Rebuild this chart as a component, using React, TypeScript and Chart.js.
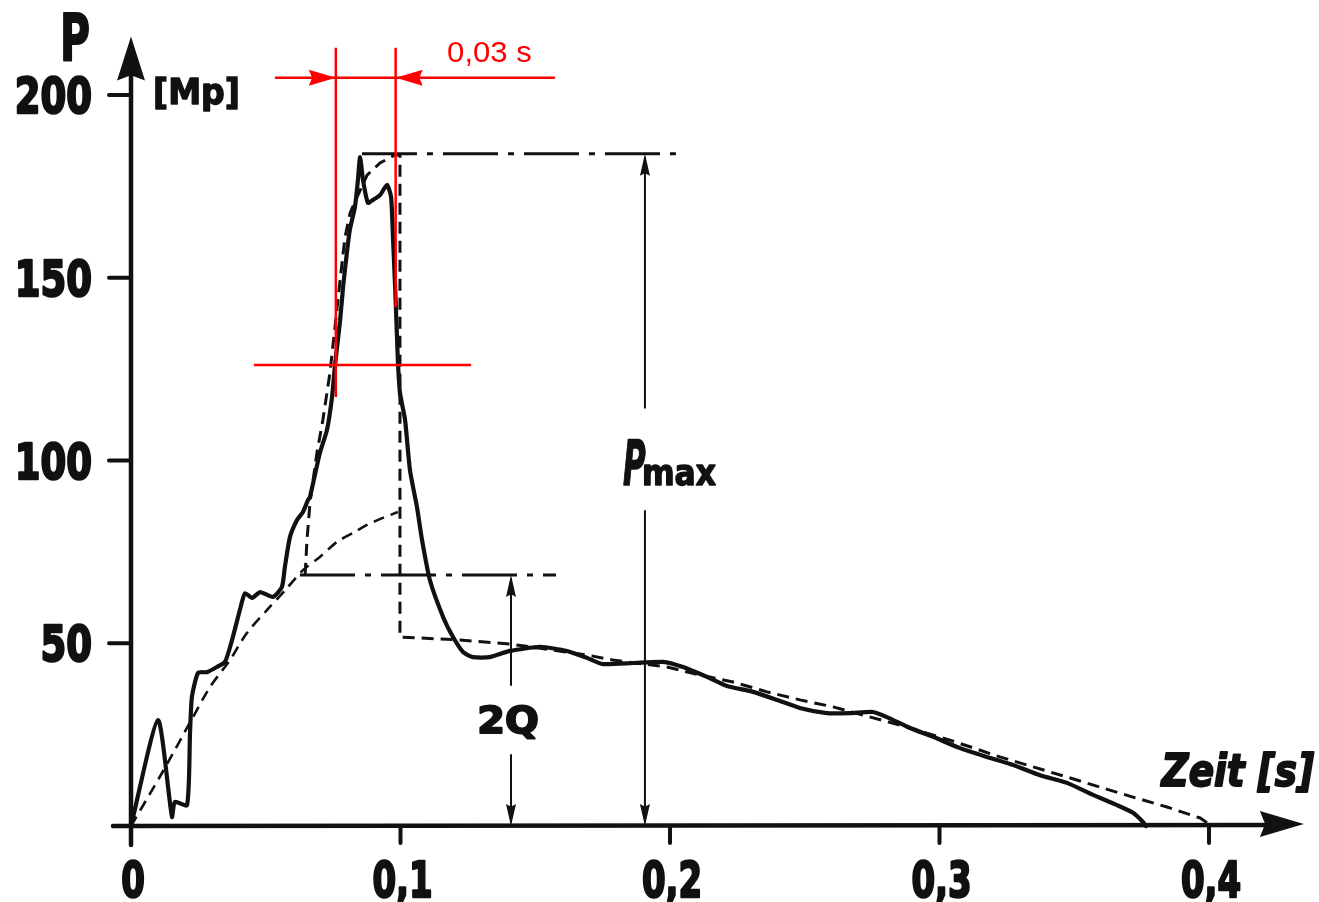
import React, { useEffect, useRef } from "react";
import { Chart, registerables } from "chart.js";

Chart.register(...registerables);

// ---------- data (time in s, load P in Mp) ----------
const measuredTime = [
  0, 0.0100, 0.0152, 0.0163, 0.0208, 0.0219, 0.0226, 0.0249, 0.0282, 0.0319,
  0.0349, 0.0375, 0.0404, 0.0423, 0.0449, 0.0479, 0.0527, 0.0560, 0.0571, 0.0590,
  0.0616, 0.0638, 0.0657, 0.0664, 0.0701, 0.0727, 0.0746, 0.0757, 0.0776, 0.0787,
  0.0801, 0.0812, 0.0831, 0.0842, 0.0850, 0.0861, 0.0879, 0.0898, 0.0924, 0.0950,
  0.0965, 0.0972, 0.0980, 0.0987, 0.0991, 0.0998, 0.1017, 0.1035, 0.1061, 0.1080,
  0.1109, 0.1158, 0.1195, 0.1232, 0.1269, 0.1332, 0.1406, 0.1518, 0.1618, 0.1692,
  0.1751, 0.1863, 0.1974, 0.2048, 0.2137, 0.2211, 0.2308, 0.2397, 0.2482, 0.2582,
  0.2668, 0.2753, 0.2805, 0.2891, 0.2976, 0.3076, 0.3176, 0.3273, 0.3373, 0.3473,
  0.3570, 0.3659, 0.3718, 0.3755, 0.3766,
];
const measuredLoad = [
  0, 29.0, 2.5, 6.6, 5.7, 25.4, 35.3, 41.9, 42.1, 43.5,
  44.9, 50.9, 59.1, 63.7, 62.4, 64.0, 62.7, 65.4, 70.9, 79.1,
  83.7, 85.9, 89.2, 90.0, 102.1, 108.3, 117.4, 126.1, 138.4, 147.5,
  156.8, 163.1, 169.4, 176.7, 183.0, 176.7, 170.5, 171.3, 172.6, 175.4,
  172.1, 161.1, 147.5, 133.8, 126.1, 118.5, 111.1, 97.4, 87.3, 78.2,
  67.3, 57.2, 51.7, 47.6, 46.2, 46.2, 47.9, 49.0, 47.9, 46.0,
  44.3, 44.6, 44.9, 43.5, 40.8, 38.3, 36.7, 34.5, 32.3, 30.9,
  30.9, 31.2, 29.8, 26.8, 24.4, 21.3, 18.9, 16.7, 13.9, 11.8,
  8.5, 5.7, 3.6, 1.1, 0,
];

// idealised lower curve (dashed)
const lowerTime = [0, 0.0115, 0.0230, 0.0293, 0.0367, 0.0430, 0.0505, 0.0579, 0.0638, 0.0701, 0.0764, 0.0824, 0.0876, 0.0935, 0.0990];
const lowerLoad = [0, 14.5, 29.8, 38.0, 45.4, 52.8, 59.1, 65.1, 70.0, 73.6, 77.7, 80.2, 82.4, 84.3, 85.9];

// idealised impact curve (dashed): rise, drop at 0.1 s, decay to 0.4 s
const idealTime = [
  0.0646, 0.0653, 0.0664, 0.0690, 0.0712, 0.0738, 0.0757, 0.0776, 0.0794, 0.0813,
  0.0839, 0.0876, 0.0924, 0.0980, 0.0998, 0.0998, 0.1221, 0.1406, 0.1692, 0.1788,
  0.1989, 0.2111, 0.2234, 0.2360, 0.2482, 0.2605, 0.2853, 0.3039, 0.3224, 0.3473,
  0.3718, 0.3844, 0.3967, 0.4011,
];
const idealLoad = [
  68.7, 78.2, 88.4, 102.1, 111.1, 123.9, 136.5, 149.4, 161.1, 167.7,
  172.1, 178.1, 181.4, 183.6, 183.6, 51.7, 50.9, 49.8, 46.8, 45.4,
  43.5, 41.3, 39.4, 36.7, 34.5, 32.6, 27.6, 23.5, 18.9, 13.4,
  7.9, 5.2, 2.2, 0,
];

// reference levels
const pmaxLevel = 183.9;
const pmaxLineTime = [0.0857, 0.2022];
const twoQLevel = 68.7;
const twoQLineTime = [0.0627, 0.1577];

// dimension arrows: [time, top, gapTop, gapBottom, bottom]
const pmaxArrow = [0.1907, 183.9, 114.4, 86.2, 0];
const twoQArrow = [0.1410, 68.7, 38.6, 19.4, 0];

// red 0,03 s construction
const redVert1 = [0.0760, 212.9, 117.4];
const redVert2 = [0.0982, 212.9, 142.0];
const redHoriz = [126.1, 0.0456, 0.1262];
const redArrowLevel = 204.7;
const redArrowLeftFrom = 0.0534;
const redArrowRightFrom = 0.1573;

// axes
const xTicks = [0, 0.1, 0.2, 0.3, 0.4];
const xTickLabels = ["0", "0,1", "0,2", "0,3", "0,4"];
const yTicks = [50, 100, 150, 200];
const yTickLabels = ["50", "100", "150", "200"];

const zip = (t: number[], p: number[]) => t.map((x, i) => ({ x, y: p[i] }));

const BOLD = "'DejaVu Sans', sans-serif";

function text(ctx: CanvasRenderingContext2D, s: string, x: number, y: number, font: string, align: CanvasTextAlign, sx = 1, color = "#111", stroke = 0) {
  ctx.save();
  ctx.font = font;
  ctx.fillStyle = color;
  ctx.strokeStyle = color;
  ctx.lineJoin = "round";
  ctx.textAlign = align;
  ctx.textBaseline = "alphabetic";
  ctx.translate(x, y);
  ctx.scale(sx, 1);
  ctx.fillText(s, 0, 0);
  if (stroke > 0) {
    ctx.lineWidth = stroke;
    ctx.strokeText(s, 0, 0);
  }
  ctx.restore();
}

function head(ctx: CanvasRenderingContext2D, tx: number, ty: number, dx: number, dy: number, len: number, half: number, color: string) {
  const bx = tx - dx * len, by = ty - dy * len;
  const nx = -dy, ny = dx;
  ctx.save();
  ctx.fillStyle = color;
  ctx.beginPath();
  ctx.moveTo(tx, ty);
  ctx.lineTo(bx + nx * half, by + ny * half);
  ctx.lineTo(bx + dx * len * 0.12, by + dy * len * 0.12);
  ctx.lineTo(bx - nx * half, by - ny * half);
  ctx.closePath();
  ctx.fill();
  ctx.restore();
}

const overlay = {
  id: "overlay",
  afterDatasetsDraw(chart: any) {
    const ctx: CanvasRenderingContext2D = chart.ctx;
    const xs = chart.scales.x, ys = chart.scales.y;
    const px = (v: number) => xs.getPixelForValue(v);
    const py = (v: number) => ys.getPixelForValue(v);
    const ink = "#111";
    const x0 = px(0), y0 = py(0);

    ctx.save();
    ctx.strokeStyle = ink;
    ctx.lineCap = "round";

    // axes
    ctx.lineWidth = 4.5;
    ctx.beginPath();
    ctx.moveTo(x0, y0 + 19);
    ctx.lineTo(x0, py(212));
    ctx.moveTo(x0 - 18, y0);
    ctx.lineTo(px(0.428), y0 - 1);
    ctx.stroke();
    head(ctx, x0, py(216), 0, -1, 44, 14, ink);
    head(ctx, px(0.4352), y0 - 2, 1, 0, 44, 13, ink);

    // ticks
    ctx.lineWidth = 4;
    ctx.beginPath();
    yTicks.forEach((v) => { ctx.moveTo(x0 - 22, py(v)); ctx.lineTo(x0, py(v)); });
    xTicks.forEach((v) => { if (v > 0) { ctx.moveTo(px(v), y0); ctx.lineTo(px(v), y0 + 17); } });
    ctx.stroke();

    yTickLabels.forEach((s, i) => text(ctx, s, x0 - 39, py(yTicks[i]) + 18, `bold 50px ${BOLD}`, "right", 0.74, ink, 2.5));
    xTickLabels.forEach((s, i) => text(ctx, s, px(xTicks[i]) + 2, y0 + 71, `bold 50px ${BOLD}`, "center", 0.68, ink, 2.5));

    // axis titles
    text(ctx, "P", x0 - 71, py(0) - 765, `bold 66px ${BOLD}`, "left", 0.62, ink, 2);
    text(ctx, "[Mp]", x0 + 22, py(200) + 9, `bold 36px ${BOLD}`, "left", 0.92, ink, 1.5);
    text(ctx, "Zeit [s]", px(0.3824), y0 - 40, `italic bold 45px ${BOLD}`, "left", 0.83, ink, 2);

    // dimension arrows
    ctx.lineWidth = 2;
    [pmaxArrow, twoQArrow].forEach((a) => {
      const [t, top, g1, g2, bot] = a;
      ctx.beginPath();
      ctx.moveTo(px(t), py(top) + 4);
      ctx.lineTo(px(t), py(g1));
      ctx.moveTo(px(t), py(g2));
      ctx.lineTo(px(t), py(bot) - 4);
      ctx.stroke();
      head(ctx, px(t), py(top), 0, -1, 22, 5, ink);
      head(ctx, px(t), py(bot), 0, 1, 22, 5, ink);
    });

    // dimension labels
    text(ctx, "P", px(pmaxArrow[0]) - 22, py(93.3), `italic bold 62px ${BOLD}`, "left", 0.5, ink, 1.5);
    text(ctx, "max", px(pmaxArrow[0]) - 3, py(93.3), `bold 36px ${BOLD}`, "left", 0.87, ink, 1.5);
    text(ctx, "2Q", px(twoQArrow[0]) - 3, py(25.4), `bold 38px ${BOLD}`, "center", 1.05, ink, 2);

    // red arrowheads + label
    const red = "#ff0000";
    head(ctx, px(redVert1[0]), py(redArrowLevel), 1, 0, 27, 8, red);
    head(ctx, px(redVert2[0]), py(redArrowLevel), -1, 0, 27, 8, red);
    text(ctx, "0,03 s", px(0.1173), py(209.0), `29px 'Liberation Sans', Arial, sans-serif`, "left", 1.07, red);

    ctx.restore();
  },
};

export default function App() {
  const ref = useRef<HTMLCanvasElement | null>(null);

  useEffect(() => {
    if (!ref.current) return;
    const red = "#ff0000";
    const ink = "#111";
    const base = { pointRadius: 0, clip: false as any, fill: false };
    const chart = new Chart(ref.current, {
      type: "line",
      data: {
        datasets: [
          { ...base, label: "red v1", data: [{ x: redVert1[0], y: redVert1[1] }, { x: redVert1[0], y: redVert1[2] }], borderColor: red, borderWidth: 2.5, tension: 0 },
          { ...base, label: "red v2", data: [{ x: redVert2[0], y: redVert2[1] }, { x: redVert2[0], y: redVert2[2] }], borderColor: red, borderWidth: 2.5, tension: 0 },
          { ...base, label: "red h", data: [{ x: redHoriz[1], y: redHoriz[0] }, { x: redHoriz[2], y: redHoriz[0] }], borderColor: red, borderWidth: 2.5, tension: 0 },
          { ...base, label: "red arrow", data: [{ x: redArrowLeftFrom, y: redArrowLevel }, { x: redVert1[0], y: redArrowLevel }, { x: redVert2[0], y: redArrowLevel }, { x: redArrowRightFrom, y: redArrowLevel }], borderColor: red, borderWidth: 2.5, tension: 0 },
          { ...base, label: "Messung", data: zip(measuredTime, measuredLoad), borderColor: ink, borderWidth: 4.2, tension: 0.2, borderJoinStyle: "round", borderCapStyle: "round" },
          { ...base, label: "Ideal unten", data: zip(lowerTime, lowerLoad), borderColor: ink, borderWidth: 2.6, borderDash: [11, 7], tension: 0.3 },
          { ...base, label: "Ideal", data: zip(idealTime, idealLoad), borderColor: ink, borderWidth: 3, borderDash: [12, 7], tension: 0 },
          { ...base, label: "Pmax", data: pmaxLineTime.map((x) => ({ x, y: pmaxLevel })), borderColor: ink, borderWidth: 3, borderDash: [55, 10, 6, 10], tension: 0 },
          { ...base, label: "2Q", data: twoQLineTime.map((x) => ({ x, y: twoQLevel })), borderColor: ink, borderWidth: 3, borderDash: [55, 10, 6, 10], tension: 0 },
        ],
      },
      options: {
        responsive: false,
        maintainAspectRatio: false,
        animation: false,
        layout: { padding: { left: 131, right: 110, top: 95, bottom: 76 } },
        scales: {
          x: { type: "linear", min: 0, max: 0.4, display: false },
          y: { type: "linear", min: 0, max: 200, display: false },
        },
        plugins: { legend: { display: false }, tooltip: { enabled: false } },
      },
      plugins: [overlay],
    });
    return () => chart.destroy();
  }, []);

  return (
    <div style={{ position: "absolute", left: 0, top: 0, width: 1319, height: 902, background: "#fff" }}>
      <canvas ref={ref} width={1319} height={902} style={{ display: "block" }} />
    </div>
  );
}
